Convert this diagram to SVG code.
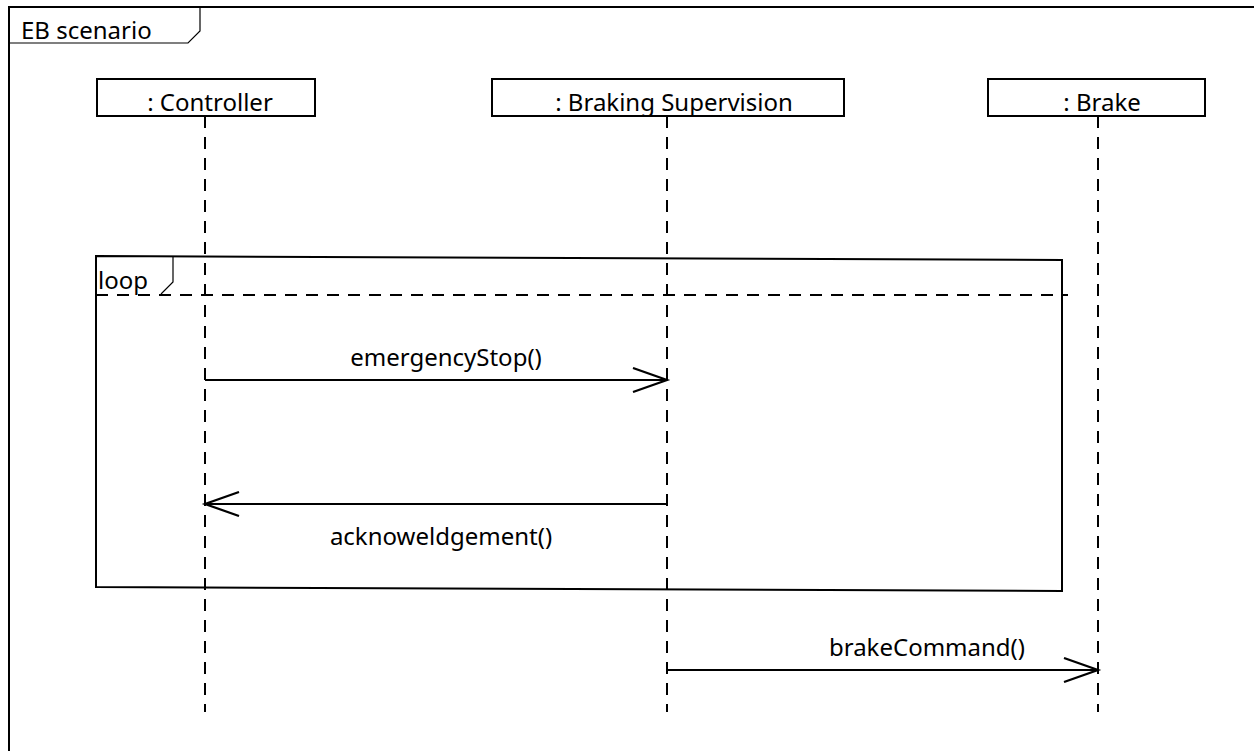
<svg xmlns="http://www.w3.org/2000/svg" width="1254" height="751" viewBox="0 0 1254 751">
<style>
text{font-family:"Noto Sans","Open Sans","DejaVu Sans",sans-serif;font-size:24px;fill:#000}
.box{fill:#fff;stroke:#000;stroke-width:2}
.life{stroke:#000;stroke-width:2;stroke-dasharray:12,9;fill:none}
.msg{stroke:#000;stroke-width:2;fill:none}
.frame{fill:none;stroke:#000;stroke-width:2}
.thin{fill:none;stroke:#000;stroke-width:1.2}
</style>
<defs>
<marker id="open" markerWidth="40" markerHeight="26" refX="35" refY="13" orient="auto" markerUnits="userSpaceOnUse">
<path d="M1,1 L35,13 L1,25" fill="none" stroke="#000" stroke-width="2.2"/>
</marker>
</defs>
<rect width="1254" height="751" fill="#fff"/>
<g id="frame">
<rect class="frame" x="9" y="7" width="1260" height="760"/>
<path class="thin" d="M9,43 L188,43 L200,31 L200,7"/>
<text x="21" y="39">EB scenario</text>
</g>
<g id="lifelines">
<line class="life" x1="205" y1="116" x2="205" y2="712"/>
<line class="life" x1="667" y1="116" x2="667" y2="712"/>
<line class="life" x1="1098" y1="116" x2="1098" y2="712"/>
</g>
<g id="controller">
<rect class="box" x="97" y="79" width="218" height="37"/>
<text x="210" y="111" text-anchor="middle">: Controller</text>
</g>
<g id="braking">
<rect class="box" x="492" y="79" width="352" height="37"/>
<text x="674" y="111" text-anchor="middle">: Braking Supervision</text>
</g>
<g id="brake">
<rect class="box" x="988" y="79" width="217" height="37"/>
<text x="1102" y="111" text-anchor="middle">: Brake</text>
</g>
<g id="loop">
<path class="frame" d="M96,256 L1062,260 L1062,591 L96,587 Z"/>
<path class="thin" d="M173,256 L173,282 L161,294"/>
<line x1="96" y1="295" x2="1068" y2="295" stroke="#000" stroke-width="2" stroke-dasharray="12,9"/>
<text x="98" y="289">loop</text>
</g>
<g id="connectors">
<line class="msg" x1="205" y1="380" x2="667" y2="380" marker-end="url(#open)"/>
<line class="msg" x1="667" y1="504" x2="205" y2="504" marker-end="url(#open)"/>
<line class="msg" x1="667" y1="670" x2="1098" y2="670" marker-end="url(#open)"/>
</g>
<g id="labels">
<text x="446" y="366" text-anchor="middle">emergencyStop()</text>
<text x="441" y="545" text-anchor="middle">acknoweldgement()</text>
<text x="927" y="656" text-anchor="middle">brakeCommand()</text>
</g>
</svg>
